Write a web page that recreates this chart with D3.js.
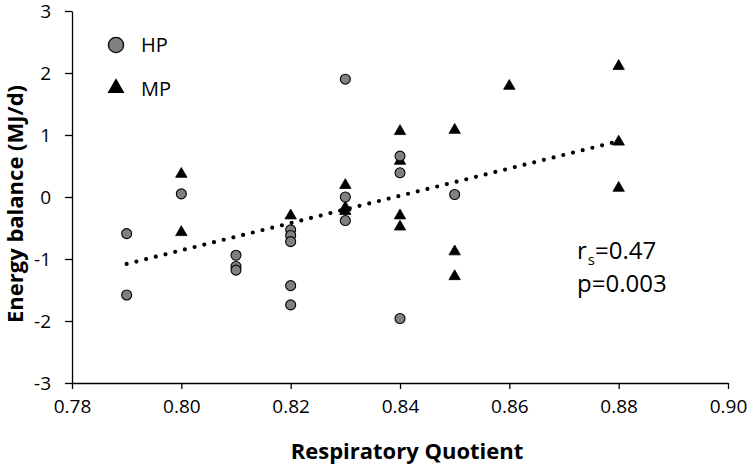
<!DOCTYPE html>
<html><head><meta charset="utf-8">
<script src="https://cdn.jsdelivr.net/npm/d3@7"></script>
<style>body{margin:0;background:#fff}</style>
</head><body><svg id="c" width="752" height="468"></svg>
<script>
// HP series
const hpRQ = [0.79, 0.79, 0.80, 0.81, 0.81, 0.81, 0.82, 0.82, 0.82, 0.82, 0.82, 0.83, 0.83, 0.83, 0.84, 0.84, 0.84, 0.85];
const hpEB = [-0.59, -1.58, 0.05, -0.94, -1.12, -1.18, -0.53, -0.62, -0.72, -1.43, -1.74, 1.90, 0.00, -0.38, 0.66, 0.39, -1.96, 0.04];
// MP series
const mpRQ = [0.80, 0.80, 0.82, 0.83, 0.83, 0.83, 0.84, 0.84, 0.84, 0.84, 0.85, 0.85, 0.85, 0.86, 0.88, 0.88, 0.88];
const mpEB = [0.37, -0.57, -0.30, 0.19, -0.17, -0.23, 1.06, 0.58, -0.30, -0.48, 1.08, -0.88, -1.28, 1.79, 2.11, 0.89, 0.145];
// Trend line
const trendRQ = [0.79, 0.88];
const trendEB = [-1.08, 0.90];
// Ticks
const xTicks = [0.78, 0.80, 0.82, 0.84, 0.86, 0.88, 0.90];
const yTicks = [-3, -2, -1, 0, 1, 2, 3];
const seriesNames = ["HP", "MP"];

const svg = d3.select("#c");
const font = "'Open Sans', sans-serif";
const x = d3.scaleLinear().domain([0.78, 0.90]).range([72, 728]);
const y = d3.scaleLinear().domain([-3, 3]).range([383, 11]);

const xa = svg.append("g").attr("transform", `translate(0,${y(-3)})`)
  .call(d3.axisBottom(x).tickValues(xTicks).tickFormat(d3.format(".2f")).tickSize(6).tickSizeOuter(0).tickPadding(11));
const ya = svg.append("g").attr("transform", `translate(${x(0.78)},0)`)
  .call(d3.axisLeft(y).tickValues(yTicks).tickFormat(d => d < 0 ? "-" + Math.abs(d) : d).tickSize(7).tickSizeOuter(0).tickPadding(14));
[xa, ya].forEach(a => {
  a.selectAll("path,line").attr("stroke", "#000").attr("stroke-width", 1.3);
  a.selectAll("text").attr("font-family", font).attr("font-size", 19).attr("fill", "#000");
});

// MP triangles
const triSmall = d3.symbol().type(d3.symbolTriangle).size(56);
svg.append("g").selectAll("path").data(mpRQ.map((r, i) => [r, mpEB[i]])).join("path")
  .attr("d", triSmall).attr("transform", d => `translate(${x(d[0])},${y(d[1])})`)
  .attr("fill", "#000").attr("stroke", "#000").attr("stroke-width", 0.8);

// HP circles
svg.append("g").selectAll("circle").data(hpRQ.map((r, i) => [r, hpEB[i]])).join("circle")
  .attr("cx", d => x(d[0])).attr("cy", d => y(d[1])).attr("r", 5)
  .attr("fill", "#808080").attr("stroke", "#000").attr("stroke-width", 1.1);

// Trend line
svg.append("path").datum(trendRQ.map((r, i) => [r, trendEB[i]]))
  .attr("d", d3.line().x(d => x(d[0])).y(d => y(d[1])))
  .attr("fill", "none").attr("stroke", "#000").attr("stroke-width", 4.2)
  .attr("stroke-linecap", "round").attr("stroke-dasharray", "0 10");

// Legend
const lg = svg.append("g");
lg.append("circle").attr("cx", 116).attr("cy", 45).attr("r", 7.6)
  .attr("fill", "#808080").attr("stroke", "#000").attr("stroke-width", 1.3);
lg.append("path").attr("d", d3.symbol().type(d3.symbolTriangle).size(125))
  .attr("transform", "translate(116,88)").attr("fill", "#000");
lg.selectAll("text").data(seriesNames).join("text")
  .attr("x", 141).attr("y", (d, i) => 52 + i * 44)
  .attr("font-family", font).attr("font-size", 20).attr("fill", "#000").text(d => d);

// Stats
const st = svg.append("g").attr("font-family", font).attr("fill", "#000");
const t1 = st.append("text").attr("x", 577).attr("y", 259).attr("font-size", 24);
t1.append("tspan").text("r");
t1.append("tspan").attr("font-size", 15).attr("dx", 1).attr("dy", 6).text("s");
t1.append("tspan").attr("dy", -6).text("=0.47");
st.append("text").attr("x", 577).attr("y", 292).attr("font-size", 24).text("p=0.003");

// Axis titles
svg.append("text").attr("x", 407).attr("y", 459).attr("text-anchor", "middle")
  .attr("font-family", font).attr("font-weight", "bold").attr("font-size", 22).attr("fill", "#000")
  .text("Respiratory Quotient");
svg.append("text").attr("transform", "translate(23,204) rotate(-90)").attr("text-anchor", "middle")
  .attr("font-family", font).attr("font-weight", "bold").attr("font-size", 22).attr("fill", "#000")
  .text("Energy balance (MJ/d)");
</script></body></html>
